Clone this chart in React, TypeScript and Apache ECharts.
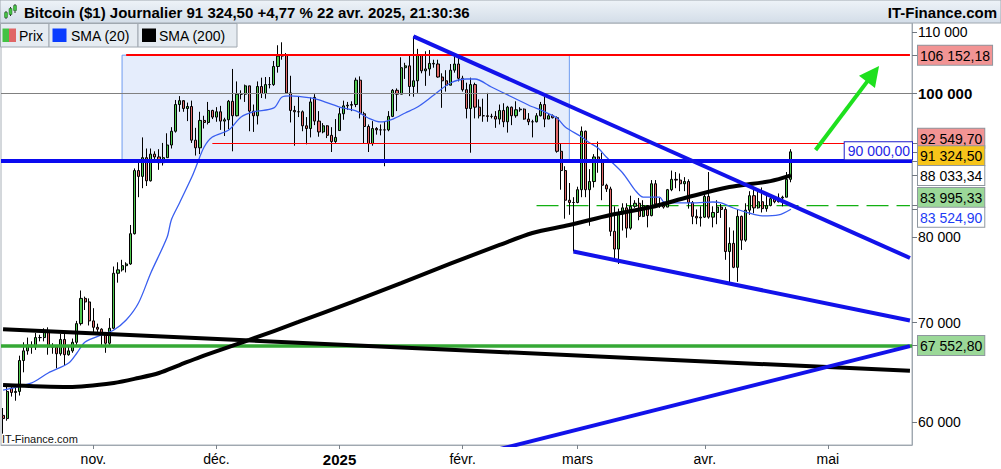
import React, { useEffect, useRef } from 'react';
import * as echarts from 'echarts';

const FONT = '"Liberation Sans", Arial, Helvetica, sans-serif';

// ---------------- data ----------------
const firstDay = '2024-10-10';
const lastDay = '2025-05-21';
const skippedDays = ['2024-12-25', '2025-01-01'];

// daily candles, one per trading day from 2024-10-10 to 2025-04-22: [open, close, low, high] ($)
const candles: [number, number, number, number][] = [
  // Oct 10 - 31
  [60600, 60300, 58900, 61300], [60300, 62900, 60100, 63400], [63200, 62800, 62400, 63500], [62800, 62900, 62000, 63300],
  [62900, 66000, 62500, 66500], [66000, 67000, 64800, 67900], [67000, 67600, 66600, 68400], [67600, 67400, 66700, 68000],
  [67400, 68400, 67100, 68900], [68400, 68400, 68000, 68700], [68400, 69000, 68000, 69400], [69000, 67400, 66600, 69500],
  [67400, 67400, 66700, 67800], [67400, 66700, 65200, 67500], [66700, 68200, 66500, 68800], [68200, 66600, 65500, 68800],
  [66600, 67000, 66500, 67500], [67000, 67900, 66800, 68300], [67900, 69900, 67500, 70200], [69900, 72700, 69700, 73600],
  [72700, 72300, 71400, 72900], [72300, 70200, 69700, 72700],
  // Nov
  [70200, 69500, 68800, 71600], [69500, 69300, 69000, 69900], [69300, 68700, 67500, 69400], [68700, 67800, 66800, 69000],
  [67800, 69400, 67500, 70500], [69400, 75600, 69300, 76400], [75600, 76000, 74500, 76900], [76000, 76500, 75800, 77200],
  [76500, 76700, 75700, 76900], [76700, 80400, 76600, 81500], [80400, 88700, 80300, 89000], [88700, 87900, 85100, 89900],
  [87900, 90500, 86300, 93400], [90500, 87300, 86600, 91800], [87300, 91000, 87200, 91800], [91000, 90600, 90100, 91400],
  [90600, 89800, 88800, 91700], [89800, 90500, 89400, 92600], [90500, 92300, 90500, 94000], [92300, 94300, 91800, 94900],
  [94300, 98300, 94100, 99000], [98300, 98900, 97200, 99600], [98900, 97700, 97200, 98800], [97700, 98000, 95800, 98600],
  [98000, 93000, 92600, 98900], [93000, 91900, 90800, 94800], [91900, 95900, 91000, 97200], [95900, 95600, 94700, 96600],
  [95600, 97400, 95300, 98700], [97400, 96400, 96100, 97500],
  // Dec (no 25th)
  [96400, 97200, 95700, 97900], [97200, 95800, 94500, 98100], [95800, 96000, 93600, 96300], [96000, 98800, 94600, 99000],
  [98800, 96600, 91400, 103900], [96600, 99900, 96500, 101900], [99900, 99900, 99100, 100500], [99900, 101200, 98700, 101400],
  [101200, 97300, 94300, 101200], [97300, 96600, 94200, 98300], [96600, 101100, 95300, 101900], [101100, 100000, 99300, 102500],
  [100000, 101400, 99200, 102600], [101400, 101400, 100800, 102600], [101400, 104300, 101200, 105200], [104300, 106000, 103300, 107800],
  [106000, 106100, 105400, 108300], [106100, 100100, 100000, 106500], [100100, 97400, 95600, 102800], [97400, 97200, 92200, 98100],
  [97200, 97200, 96400, 99500], [97200, 95100, 94300, 97400], [95100, 94700, 92400, 96400], [94700, 98700, 93400, 99400],
  [99400, 95800, 95200, 99900], [95800, 94200, 93500, 97300], [94200, 95100, 94000, 95500], [95100, 93700, 93300, 95200],
  [93700, 92800, 91300, 94900], [92800, 93400, 92600, 96100],
  // Jan (no 1st)
  [94400, 96900, 94400, 97800], [96900, 98100, 96000, 98900], [98100, 98200, 97500, 98700], [98200, 98300, 97300, 98800],
  [98300, 102100, 97900, 102500], [102100, 96900, 96200, 102700], [96900, 95000, 92500, 97200], [95000, 92500, 91300, 95300],
  [92500, 94700, 92200, 95800], [94700, 94500, 93800, 94900], [94500, 94500, 93700, 95300], [94500, 94500, 89300, 95800],
  [94500, 96500, 94300, 97300], [96500, 100500, 96400, 100700], [100500, 99900, 97300, 100800], [99900, 104100, 99900, 105800],
  [104100, 104400, 102300, 104900], [104400, 101100, 99600, 106300], [101100, 102000, 99500, 109300], [102000, 106100, 100100, 107200],
  [106100, 103600, 103200, 106300], [103600, 103900, 101200, 106800], [103900, 104800, 102800, 107000], [104800, 104700, 104100, 105400],
  [104700, 102600, 102500, 105400], [102600, 102000, 97800, 103200], [102000, 101300, 100300, 103700], [101300, 103700, 101300, 104700],
  [103700, 104700, 103300, 106400], [104700, 102400, 101900, 106000],
  // Feb
  [102400, 100600, 100300, 102800], [100600, 97700, 96200, 101700], [97700, 101400, 91200, 102500], [101400, 97900, 96200, 101700],
  [97900, 96600, 96200, 99100], [96600, 96600, 95700, 99200], [96600, 96500, 95700, 100100], [96500, 96500, 96200, 96900],
  [96500, 96100, 94800, 97300], [96100, 97400, 95300, 98300], [97400, 95700, 94900, 98500], [95700, 97900, 94100, 98100],
  [97900, 96600, 95200, 98000], [96600, 97500, 96300, 98800], [97500, 97600, 97200, 97900], [97600, 96100, 96000, 97700],
  [96100, 95700, 95200, 97000], [95700, 95700, 93400, 96000], [95700, 96600, 95600, 97000], [96600, 98300, 96500, 98700],
  [98300, 96100, 94900, 99500], [96100, 96600, 96100, 96900], [96600, 96300, 96200, 96800], [96300, 91400, 91200, 96500],
  [91400, 88700, 86100, 92500], [88700, 84700, 82300, 89300], [84700, 84400, 82800, 87000], [84400, 84400, 78200, 85100],
  // Mar
  [84400, 86100, 84300, 86500], [86100, 94300, 85100, 95000], [94300, 86100, 85100, 94400], [86100, 87200, 81400, 88900],
  [87200, 90600, 86400, 91000], [90600, 89900, 88400, 92800], [89900, 86700, 84700, 91200], [86700, 86200, 85800, 86900],
  [86200, 80700, 80100, 86500], [80700, 78500, 77400, 83900], [78500, 82900, 76700, 83600], [82900, 83700, 80800, 84300],
  [83700, 81100, 79900, 84300], [81100, 83900, 80900, 85300], [83900, 84300, 83700, 84700], [84300, 82600, 82100, 85000],
  [82600, 84000, 82500, 84700], [84000, 82700, 81200, 84000], [82700, 86900, 82600, 87400], [86900, 84200, 83700, 87400],
  [84200, 84000, 83700, 85000], [84000, 83800, 83600, 84500], [83800, 86100, 83800, 86200], [86100, 87500, 85900, 88700],
  [87500, 87400, 86300, 88500], [87400, 86900, 85900, 88300], [86900, 87200, 85900, 87800], [87200, 84400, 83600, 87500],
  [84400, 82600, 81600, 84600], [82600, 82400, 81600, 83500], [82400, 82500, 81300, 83900],
  // Apr 1 - 22
  [82500, 85200, 82400, 85500], [85200, 82500, 82300, 88500], [82500, 83100, 81200, 83900], [83100, 83800, 81600, 84700],
  [83800, 83500, 82400, 84200], [83500, 78200, 77200, 83800], [78200, 79200, 74500, 81200], [79200, 76300, 76200, 80800],
  [76300, 82600, 74600, 83500], [82600, 79600, 78400, 82700], [79600, 83400, 79400, 84300], [83400, 85300, 82800, 85900],
  [85300, 83700, 83000, 86100], [83700, 84500, 83600, 85800], [84500, 83600, 83100, 86400], [83600, 84000, 83200, 85500],
  [84000, 84900, 83900, 85500], [84900, 84500, 84300, 85100], [84500, 85000, 84400, 85600], [85000, 85100, 83900, 85300],
  [85100, 87500, 85100, 88500], [87500, 91324.5, 87100, 91700],
];

// SMA (20)
const sma20: [string, number][] = [
  ['2024-10-10', 63040], ['2024-10-17', 63740], ['2024-10-21', 64730], ['2024-10-26', 65750], ['2024-10-28', 66780],
  ['2024-10-30', 67940], ['2024-11-03', 68680], ['2024-11-06', 69210], ['2024-11-09', 70290], ['2024-11-12', 72180],
  ['2024-11-15', 75630], ['2024-11-19', 79990], ['2024-11-20', 82140], ['2024-11-22', 84340], ['2024-11-25', 87810],
  ['2024-11-26', 89200], ['2024-11-28', 92010], ['2024-11-30', 93460], ['2024-12-04', 94480], ['2024-12-07', 96420],
  ['2024-12-10', 97180], ['2024-12-15', 97780], ['2024-12-17', 99460], ['2024-12-19', 99620], ['2024-12-24', 99310],
  ['2024-12-27', 99000], ['2025-01-02', 97920], ['2025-01-06', 97320], ['2025-01-09', 96260], ['2025-01-12', 95670],
  ['2025-01-15', 96110], ['2025-01-18', 97020], ['2025-01-21', 97920], ['2025-01-25', 99770], ['2025-01-29', 101650],
  ['2025-02-02', 102290], ['2025-02-04', 102290], ['2025-02-08', 101020], ['2025-02-13', 99460], ['2025-02-17', 98230],
  ['2025-02-21', 97180], ['2025-02-24', 96260], ['2025-02-26', 94930], ['2025-03-02', 93460], ['2025-03-04', 92590],
  ['2025-03-06', 91870], ['2025-03-08', 90600], ['2025-03-12', 88370], ['2025-03-15', 86050], ['2025-03-17', 85120],
  ['2025-03-21', 85120], ['2025-03-22', 84470], ['2025-03-25', 84340], ['2025-03-30', 84340], ['2025-04-03', 84470],
  ['2025-04-05', 84340], ['2025-04-08', 83680], ['2025-04-11', 83160], ['2025-04-15', 82650], ['2025-04-19', 82780],
  ['2025-04-22', 83524.9],
];

// SMA (200)
const sma200: [string, number][] = [
  ['2024-10-10', 63530], ['2024-10-26', 63340], ['2024-11-06', 63740], ['2024-11-12', 64230], ['2024-11-17', 64730],
  ['2024-11-22', 65540], ['2024-11-27', 66360], ['2024-12-09', 68150], ['2024-12-21', 70080], ['2025-01-05', 72290],
  ['2025-01-17', 74460], ['2025-01-25', 75980], ['2025-02-02', 77500], ['2025-02-10', 79000], ['2025-02-18', 80490],
  ['2025-02-27', 81490], ['2025-03-09', 82780], ['2025-03-19', 83810], ['2025-03-28', 85120], ['2025-04-07', 86450],
  ['2025-04-17', 87260], ['2025-04-22', 88033.34],
];

// x axis labels
const monthLabels: [string, string][] = [
  ['2024-11-01', 'nov.'], ['2024-12-01', 'déc.'], ['2025-01-02', '2025'], ['2025-02-01', 'févr.'],
  ['2025-03-01', 'mars'], ['2025-04-01', 'avr.'], ['2025-05-01', 'mai'],
];
const boldMonthLabels = ['2025'];

// y axis
const yMin = 57870;
const yMax = 111600;
const axisLevels = [110000, 100000, 80000, 70000, 60000];
const boldLevels = [100000];
const extraTicks = [90000];
const priceTags = [106152.18, 92549.7, 91324.5, 88033.34, 83995.33, 83524.9, 67552.8];

// drawn levels and trend lines
const roundLevel = 100000;
const supportLevel = 90000;
const greenLevel = 67552.8;
const redTop: [string, number][] = [['2024-11-09', 106152.18], [lastDay, 106152.18]];
const redMid: [string, number][] = [['2024-11-30', 92549.7], [lastDay, 92549.7]];
const greenDashed: [string, number][] = [['2025-02-19', 83995.33], [lastDay, 83995.33]];
const rangeBox: [string, number][] = [['2024-11-08', 90000], ['2025-02-27', 106152.18]];
const longTrend: [string, number][] = [['2024-10-10', 69300], [lastDay, 64950]];
const downTrend: [string, number][] = [['2025-01-20', 109300], [lastDay, 77420]];
const wedgeLow: [string, number][] = [['2025-02-28', 78200], [lastDay, 70240]];
const riseTrend: [string, number][] = [['2025-02-09', 57410], [lastDay, 67500]];
const arrowPath: [string, number][] = [['2025-04-28', 91590], ['2025-05-12', 103100]];

const titleText = 'Bitcoin ($1) Journalier 91 324,50 +4,77 % 22 avr. 2025, 21:30:36';
const siteText = 'IT-Finance.com';
const legendItems = ['Prix', 'SMA (20)', 'SMA (200)'];

// ---------------- helpers ----------------
function buildDays(): string[] {
  const out: string[] = [];
  const d = new Date(firstDay + 'T00:00:00Z');
  const end = new Date(lastDay + 'T00:00:00Z');
  while (d.getTime() <= end.getTime()) {
    const s = d.toISOString().slice(0, 10);
    if (!skippedDays.includes(s)) out.push(s);
    d.setUTCDate(d.getUTCDate() + 1);
  }
  return out;
}

function fr(v: number, dec: number): string {
  const [i, f] = v.toFixed(dec).split('.');
  const ii = i.replace(/\B(?=(\d{3})+(?!\d))/g, ' ');
  return f ? ii + ',' + f : ii;
}

const near = (a: number, b: number) => Math.abs(a - b) < 0.5;

function buildOption() {
  const days = buildDays();
  const labelMap = new Map(monthLabels);

  // price tag looks (style only)
  const tagLook: { box: string; gapAbove?: string; gapBelow?: string }[] = [
    { box: 'red' },
    { box: 'red', gapBelow: 'g10' },
    { box: 'gold', gapAbove: 'g8' },
    { box: 'white' },
    { box: 'green', gapBelow: 'g16' },
    { box: 'whiteBlue', gapAbove: 'g16' },
    { box: 'green' },
  ];

  const tagBase = {
    fontSize: 14, fontFamily: FONT, color: '#000', height: 16, lineHeight: 16,
    padding: [2, 2, 1, 2], borderColor: '#8e979f', borderWidth: 1,
  };

  const yFormatter = (value: number) => {
    if (boldLevels.some((l) => near(l, value))) return `{bold|${fr(value, 0)}}`;
    if (axisLevels.some((l) => near(l, value))) return `{plain|${fr(value, 0)}}`;
    const idx = priceTags.findIndex((t) => near(t, value));
    if (idx < 0) return '';
    const look = tagLook[idx];
    const main = `{${look.box}|${fr(priceTags[idx], 2)}}`;
    if (look.gapAbove) return `{${look.gapAbove}| }\n${main}`;
    if (look.gapBelow) return `${main}\n{${look.gapBelow}| }`;
    return main;
  };

  const header: any[] = [
    {
      type: 'rect', z: 100, shape: { x: 0, y: 0, width: 1001, height: 23 },
      style: {
        fill: new echarts.graphic.LinearGradient(0, 0, 0, 1, [
          { offset: 0, color: '#eef3f8' }, { offset: 1, color: '#d3dde8' },
        ]),
        stroke: '#a0a8b0', lineWidth: 1,
      },
    },
    // tiny candle icon
    { type: 'line', z: 101, shape: { x1: 6, y1: 11, x2: 6, y2: 19 }, style: { stroke: '#2a2a2a', lineWidth: 1 } },
    { type: 'rect', z: 102, shape: { x: 4.5, y: 12.5, width: 3, height: 5 }, style: { fill: '#44c244', stroke: '#226622', lineWidth: 0.5 } },
    { type: 'line', z: 101, shape: { x1: 10.5, y1: 7, x2: 10.5, y2: 16 }, style: { stroke: '#2a2a2a', lineWidth: 1 } },
    { type: 'rect', z: 102, shape: { x: 9, y: 8.5, width: 3, height: 6 }, style: { fill: '#44c244', stroke: '#226622', lineWidth: 0.5 } },
    { type: 'line', z: 101, shape: { x1: 15, y1: 4, x2: 15, y2: 13 }, style: { stroke: '#2a2a2a', lineWidth: 1 } },
    { type: 'rect', z: 102, shape: { x: 13.5, y: 5.5, width: 3, height: 5 }, style: { fill: '#44c244', stroke: '#226622', lineWidth: 0.5 } },
    {
      type: 'text', z: 101,
      style: { text: titleText, x: 24, y: 12, font: `bold 15px ${FONT}`, fill: '#000', align: 'left', verticalAlign: 'middle', textAlign: 'left', textVerticalAlign: 'middle' },
    },
    {
      type: 'text', z: 101,
      style: { text: siteText, x: 997, y: 12, font: `bold 15px ${FONT}`, fill: '#000', align: 'right', verticalAlign: 'middle', textAlign: 'right', textVerticalAlign: 'middle' },
    },
  ];

  // legend cells
  const cells = [[0.5, 48.5], [49, 89], [138, 99]];
  const textX = [19, 71, 159];
  cells.forEach(([x, w], i) => {
    header.push({
      type: 'rect', z: 100, shape: { x, y: 23.5, width: w, height: 23.5 },
      style: { fill: '#e5ebf1', stroke: '#a0a8b0', lineWidth: 1 },
    });
    header.push({
      type: 'text', z: 101,
      style: { text: legendItems[i], x: textX[i], y: 35.5, font: `14px ${FONT}`, fill: '#000', align: 'left', verticalAlign: 'middle', textAlign: 'left', textVerticalAlign: 'middle' },
    });
  });
  header.push({ type: 'rect', z: 101, shape: { x: 2.5, y: 28.5, width: 6.5, height: 13.5 }, style: { fill: '#44c244' } });
  header.push({ type: 'rect', z: 101, shape: { x: 9, y: 28.5, width: 7, height: 13.5 }, style: { fill: '#e06666' } });
  header.push({ type: 'rect', z: 101, shape: { x: 52.5, y: 28.5, width: 14, height: 13.5 }, style: { fill: '#0a3cff' } });
  header.push({ type: 'rect', z: 101, shape: { x: 142, y: 28.5, width: 14, height: 13.5 }, style: { fill: '#000' } });
  header.push({
    type: 'text', z: 101,
    style: { text: siteText, x: 2, y: 439, font: `11px ${FONT}`, fill: '#111', align: 'left', verticalAlign: 'middle', textAlign: 'left', textVerticalAlign: 'middle' },
  });

  const seg = (pts: [string, number][], lineStyle: any) => [
    { coord: pts[0], lineStyle }, { coord: pts[1] },
  ];

  const trend = (name: string, pts: [string, number][], color: string, width: number, z: number, type: any = 'solid') => ({
    name, type: 'line', data: pts, showSymbol: false, symbol: 'none', z, silent: true, color,
    lineStyle: { color, width, cap: 'butt', type }, clip: true,
  });

  return {
    animation: false,
    backgroundColor: '#fff',
    textStyle: { fontFamily: FONT },
    grid: {
      left: 1, right: 89, top: 23, bottom: 24, show: true,
      borderColor: '#a8b0b8', borderWidth: 1, backgroundColor: '#fff',
      containLabel: false, outerBoundsMode: 'none',
    },
    xAxis: {
      type: 'category', data: days, boundaryGap: true,
      axisLine: { show: true, lineStyle: { color: '#a0a8b0' } },
      axisTick: {
        show: true, length: 4, alignWithLabel: true, lineStyle: { color: '#7a828a' },
        interval: (_i: number, v: string) => labelMap.has(v),
      },
      axisLabel: {
        show: true, fontSize: 14, color: '#000', fontFamily: FONT, margin: 7,
        interval: (_i: number, v: string) => labelMap.has(v),
        formatter: (v: string) => {
          const t = labelMap.get(v) || '';
          return boldMonthLabels.includes(t) ? `{b|${t}}` : t;
        },
        rich: { b: { fontWeight: 'bold', fontSize: 15, fontFamily: FONT, color: '#000' } },
      },
      splitLine: { show: false },
    },
    yAxis: {
      type: 'log', logBase: 10, min: yMin, max: yMax, position: 'right',
      axisLine: { show: true, lineStyle: { color: '#a0a8b0' } },
      axisTick: {
        show: true, length: 5, lineStyle: { color: '#6f7780' },
        customValues: [...axisLevels, ...extraTicks, ...priceTags],
      },
      axisLabel: {
        show: true, margin: 6, color: '#000', fontFamily: FONT, fontSize: 14,
        customValues: [...axisLevels, ...priceTags],
        formatter: yFormatter,
        rich: {
          plain: { fontSize: 14, fontFamily: FONT, color: '#000' },
          bold: { fontSize: 15, fontFamily: FONT, color: '#000', fontWeight: 'bold' },
          red: { ...tagBase, backgroundColor: '#f29494' },
          gold: { ...tagBase, backgroundColor: '#f7c51a' },
          white: { ...tagBase, backgroundColor: '#ffffff' },
          green: { ...tagBase, backgroundColor: '#9bd898' },
          whiteBlue: { ...tagBase, backgroundColor: '#ffffff', color: '#1d3cf5' },
          g8: { fontSize: 1, height: 8, lineHeight: 8 },
          g10: { fontSize: 1, height: 10, lineHeight: 10 },
          g16: { fontSize: 1, height: 16, lineHeight: 16 },
        },
      },
      splitLine: { show: false },
    },
    graphic: { elements: header },
    series: [
      {
        name: 'range', type: 'line', data: [], z: 1, silent: true,
        markArea: {
          silent: true,
          itemStyle: { color: 'rgba(170,195,245,0.3)', borderColor: '#6d9cf0', borderWidth: 1 },
          data: [[{ coord: rangeBox[0] }, { coord: rangeBox[1] }]],
        },
        markLine: {
          silent: true, symbol: 'none', label: { show: false },
          data: [{ yAxis: roundLevel, lineStyle: { color: '#808080', width: 1, type: 'solid' } }],
        },
      },
      trend('dashed', greenDashed, '#12b012', 1.3, 2, [22, 8]),
      {
        name: 'Prix', type: 'candlestick', data: candles, z: 3, barWidth: 2.6,
        itemStyle: { color: '#4fc94f', color0: '#e26a6a', borderColor: '#000', borderColor0: '#000', borderWidth: 1 },
      },
      {
        name: 'SMA (20)', type: 'line', data: sma20, showSymbol: false, symbol: 'none', smooth: 0.3, z: 4,
        lineStyle: { color: '#3a5ff0', width: 1.3 },
      },
      {
        name: 'levels', type: 'line', data: [], z: 5, silent: true,
        markLine: {
          silent: true, symbol: 'none', label: { show: false },
          data: [
            seg(redTop, { color: '#ff0000', width: 2, type: 'solid' }),
            seg(redMid, { color: '#ff0000', width: 1, type: 'solid' }),
            { yAxis: greenLevel, lineStyle: { color: '#35a835', width: 3.5, type: 'solid' } },
            {
              yAxis: supportLevel, lineStyle: { color: '#0a0af0', width: 4, type: 'solid' },
              label: {
                show: true, position: 'insideEndTop', distance: [0, 2],
                formatter: fr(supportLevel, 2), color: '#2525e6', fontSize: 14, fontFamily: FONT,
                backgroundColor: '#fff', borderColor: '#1c1ccc', borderWidth: 1, padding: [2, 2, 1, 3],
              },
            },
          ],
        },
      },
      {
        name: 'SMA (200)', type: 'line', data: sma200, showSymbol: false, symbol: 'none', smooth: 0.3, z: 6,
        lineStyle: { color: '#000', width: 4 },
      },
      trend('long', longTrend, '#000', 4, 7),
      trend('down', downTrend, '#1212ea', 4, 7),
      trend('wedge', wedgeLow, '#1212ea', 4, 7),
      trend('rise', riseTrend, '#1212ea', 4, 7),
      {
        name: 'arrow', type: 'line', data: [], z: 8, silent: true,
        markLine: {
          silent: true, symbol: ['none', 'triangle'], symbolSize: 20, label: { show: false },
          lineStyle: { color: '#1ee01e', width: 4, type: 'solid' },
          itemStyle: { color: '#1ee01e' },
          data: [[{ coord: arrowPath[0] }, { coord: arrowPath[1] }]],
        },
      },
    ],
  };
}

export default function App() {
  const ref = useRef<HTMLDivElement>(null);
  useEffect(() => {
    if (!ref.current) return;
    const chart = echarts.init(ref.current, null, { renderer: 'svg' });
    chart.setOption(buildOption() as any);
    return () => chart.dispose();
  }, []);
  return (
    <div
      ref={ref}
      style={{ position: 'fixed', left: 0, top: 0, width: 1001, height: 469, background: '#fff' }}
    />
  );
}
